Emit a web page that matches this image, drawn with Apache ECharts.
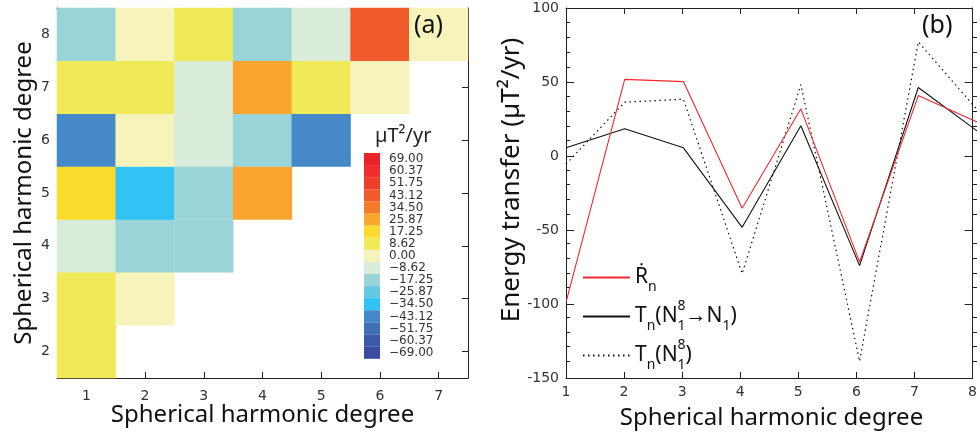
<!DOCTYPE html>
<html>
<head>
<meta charset="utf-8">
<script src="https://cdn.jsdelivr.net/npm/echarts@6/dist/echarts.min.js"></script>
<style>
html,body{margin:0;padding:0;background:#fff;}
#wrap{position:relative;width:980px;height:435px;background:#fff;}
#frame,#chart{position:absolute;left:0;top:0;width:980px;height:435px;}
</style>
</head>
<body>
<div id="wrap"><div id="frame"></div><div id="chart"></div></div>
<script>
// ---- Panel (a): heat map of energy transfer between degrees ----
const xDegrees = ['1', '2', '3', '4', '5', '6', '7'];
const yDegrees = ['2', '3', '4', '5', '6', '7', '8'];
// one row per degree (y), values for x = 1..(y-1)
const rowDeg2 = [7.9];
const rowDeg3 = [8.4, 1.2];
const rowDeg4 = [-8.1, -17.6, -16.9];
const rowDeg5 = [16.8, -34.2, -18.0, 26.3];
const rowDeg6 = [-42.7, 0.9, -9.3, -17.4, -43.5];
const rowDeg7 = [9.1, 8.2, -8.8, 25.4, 8.9, 0.6];
const rowDeg8 = [-17.8, 1.5, 8.3, -16.6, -8.0, 42.6, 0.4];
const heatRows = [rowDeg2, rowDeg3, rowDeg4, rowDeg5, rowDeg6, rowDeg7, rowDeg8];

// colour bar
const barLabels = ['69.00', '60.37', '51.75', '43.12', '34.50', '25.87', '17.25', '8.62', '0.00',
  '\u22128.62', '\u221217.25', '\u221225.87', '\u221234.50', '\u221243.12', '\u221251.75', '\u221260.37', '\u221269.00'];
const barValues = [69.00, 60.37, 51.75, 43.12, 34.50, 25.87, 17.25, 8.62, 0.00,
  -8.62, -17.25, -25.87, -34.50, -43.12, -51.75, -60.37, -69.00];
const barColors = ['#ec2229', '#ee2d2c', '#ef3d2c', '#f15a2b', '#f47b2a', '#f9a52e', '#fbdb2b', '#f0e958', '#f6f4ba',
  '#d9ebd9', '#99d5d8', '#64c8e0', '#31c3f3', '#4689c8', '#3f70b7', '#3c58a7', '#3a4ba0'];

// ---- Panel (b): energy transfer spectra ----
const degrees = [1, 2, 3, 4, 5, 6, 7, 8];
const rDot = [-100, 51.5, 50, -36, 31.5, -72.5, 40.5, 22.5];
const tN8toN1 = [5, 18, 5, -49, 20, -75, 46, 16.5];
const tN8 = [-6, 36, 38, -80.5, 48, -140, 77, 31];

const heatData = [];
heatRows.forEach(function (row, yi) {
  row.forEach(function (v, xi) { heatData.push([xi, yi, v]); });
});
const pieces = barValues.map(function (v, i) {
  return { min: v - 4.3125, max: v + 4.3125, label: barLabels[i], color: barColors[i] };
});

const tickFont = { fontFamily: 'DejaVu Sans', fontSize: 14, color: '#333' };
const titleFont = { fontFamily: 'Noto Sans', fontSize: 24, color: '#111' };
const lineCol = '#222';
const grids = [
  { left: 57, top: 8, width: 411, height: 370 },
  { left: 566, top: 8, width: 411, height: 370 }
];

// frame = axis lines, ticks and tick labels; content layer hides them
function catAxis(frame, pos, data, gridIndex, showLabel, extra) {
  return Object.assign({
    type: 'category', gridIndex: gridIndex, position: pos, data: data,
    axisLine: { show: frame, lineStyle: { color: lineCol, width: 1 } },
    axisTick: { show: frame, inside: true, alignWithLabel: true, length: 6, lineStyle: { color: lineCol } },
    axisLabel: Object.assign({ show: frame && showLabel, margin: 11 }, tickFont),
    splitLine: { show: false }
  }, extra || {});
}
function valAxis(frame, pos, gridIndex, min, max, interval, showLabel, tickLen, extra) {
  return Object.assign({
    type: 'value', gridIndex: gridIndex, position: pos, min: min, max: max, interval: interval,
    axisLine: { show: frame, onZero: false, lineStyle: { color: lineCol, width: 1 } },
    axisTick: { show: frame, inside: true, length: tickLen, lineStyle: { color: lineCol } },
    axisLabel: Object.assign({ show: frame && showLabel, margin: 7 }, tickFont),
    splitLine: { show: false }
  }, extra || {});
}
function axesFor(frame) {
  const nm = function (o) { return frame ? {} : o; };
  const minor = frame ? {} : { minorTick: { show: true, splitNumber: 5, length: 4, lineStyle: { color: lineCol } } };
  return {
    xAxis: [
      catAxis(frame, 'bottom', xDegrees, 0, true, nm({
        name: 'Spherical harmonic degree', nameLocation: 'middle', nameGap: 25, nameTextStyle: titleFont
      })),
      catAxis(frame, 'top', xDegrees, 0, false),
      valAxis(frame, 'bottom', 1, 1, 8, 1, true, 6, nm({
        name: 'Spherical harmonic degree', nameLocation: 'middle', nameGap: 30, nameTextStyle: titleFont
      })),
      valAxis(frame, 'top', 1, 1, 8, 1, false, 6)
    ],
    yAxis: [
      catAxis(frame, 'left', yDegrees, 0, true, Object.assign(nm({
        name: 'Spherical harmonic degree', nameLocation: 'middle', nameGap: 21, nameTextStyle: titleFont
      }), { axisLabel: Object.assign({ show: frame, margin: 7 }, tickFont) })),
      catAxis(frame, 'right', yDegrees, 0, false),
      valAxis(frame, 'left', 1, -150, 100, 50, true, 8, Object.assign(nm({
        name: 'Energy transfer (\u00B5T\u00B2/yr)', nameLocation: 'middle', nameGap: 41,
        nameTextStyle: Object.assign({}, titleFont, { fontSize: 26, padding: [0, 0, 0, 24] })
      }), minor)),
      valAxis(frame, 'right', 1, -150, 100, 50, false, 8, minor)
    ]
  };
}

const legendNames = ['Rdot', 'TN8N1', 'TN8'];
const legendText = {
  Rdot: '{m|\u1E58}{sb|n}',
  TN8N1: '{m|T}{sb|n}{m|(N}{sp|8}{sb|1}{m|\u2192N}{sb|1}{m|)}',
  TN8: '{m|T}{sb|n}{m|(N}{sp|8}{sb|1}{m|)}'
};

// bottom layer: the plot frames with their ticks and tick labels
const frameChart = echarts.init(document.getElementById('frame'));
const frameAxes = axesFor(true);
frameChart.setOption({
  animation: false,
  grid: grids,
  xAxis: frameAxes.xAxis,
  yAxis: frameAxes.yAxis,
  series: []
});

// top layer: data, colour bar, legend, titles
const chart = echarts.init(document.getElementById('chart'));
const contentAxes = axesFor(false);
chart.setOption({
  animation: false,
  title: [
    { text: '(a)', left: 414, top: 13, padding: 0, textStyle: { fontFamily: 'Noto Sans', fontSize: 25, fontWeight: 'normal', color: '#111' } },
    { text: '(b)', left: 922, top: 13, padding: 0, textStyle: { fontFamily: 'Noto Sans', fontSize: 25, fontWeight: 'normal', color: '#111' } },
    { text: '\u00B5T\u00B2/yr', left: 375, top: 126, padding: 0, textStyle: { fontFamily: 'Noto Sans', fontSize: 20, fontWeight: 'normal', color: '#222' } }
  ],
  grid: grids,
  xAxis: contentAxes.xAxis,
  yAxis: contentAxes.yAxis,
  visualMap: {
    type: 'piecewise', seriesIndex: 0, pieces: pieces, orient: 'vertical',
    left: 364, top: 153, itemWidth: 16, itemHeight: 12.2, itemGap: -0.1, textGap: 9,
    itemSymbol: 'rect', selectedMode: false, hoverLink: false, showLabel: true, padding: 0,
    textStyle: { fontFamily: 'DejaVu Sans', fontSize: 12, color: '#333' }
  },
  legend: {
    orient: 'vertical', left: 582, top: 267, padding: 0, itemWidth: 47, itemHeight: 14, itemGap: 5,
    selectedMode: false, data: legendNames, itemStyle: { opacity: 0 },
    formatter: function (name) { return legendText[name]; },
    textStyle: {
      rich: {
        m: { fontFamily: 'Noto Sans', fontSize: 21, lineHeight: 34, color: '#111' },
        sb: { fontFamily: 'Noto Sans', fontSize: 14, lineHeight: 14, verticalAlign: 'bottom', color: '#111' },
        sp: { fontFamily: 'Noto Sans', fontSize: 14, lineHeight: 14, verticalAlign: 'top', width: 0, color: '#111' }
      }
    }
  },
  series: [
    {
      type: 'heatmap', xAxisIndex: 0, yAxisIndex: 0, data: heatData,
      itemStyle: { borderWidth: 0 }, emphasis: { disabled: true }
    },
    {
      name: 'Rdot', type: 'line', xAxisIndex: 2, yAxisIndex: 2, symbol: 'none',
      data: degrees.map(function (d, i) { return [d, rDot[i]]; }),
      lineStyle: { color: '#f0282c', width: 1.1 }, itemStyle: { color: '#f0282c' }, z: 4
    },
    {
      name: 'TN8N1', type: 'line', xAxisIndex: 2, yAxisIndex: 2, symbol: 'none',
      data: degrees.map(function (d, i) { return [d, tN8toN1[i]]; }),
      lineStyle: { color: '#111', width: 1.1 }, itemStyle: { color: '#111' }, z: 3
    },
    {
      name: 'TN8', type: 'line', xAxisIndex: 2, yAxisIndex: 2, symbol: 'none',
      data: degrees.map(function (d, i) { return [d, tN8[i]]; }),
      lineStyle: { color: '#111', width: 1.2, type: [1.5, 3.5] }, itemStyle: { color: '#111' }, z: 2
    }
  ]
});
</script>
</body>
</html>
